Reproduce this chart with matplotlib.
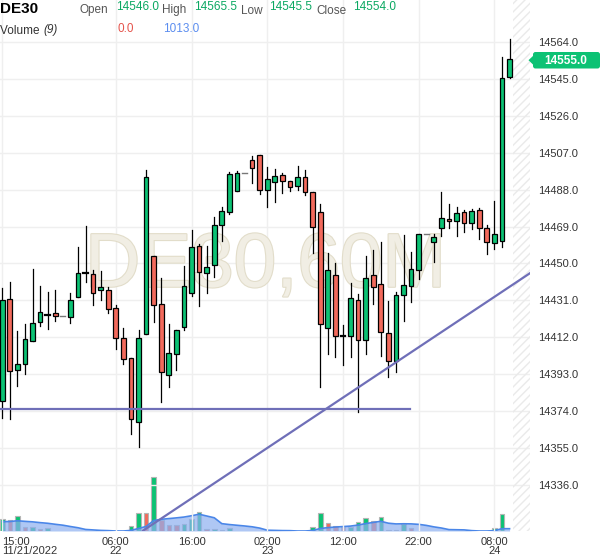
import numpy as np
import pandas as pd
import matplotlib
matplotlib.use("Agg")
import matplotlib.pyplot as plt
from matplotlib.patches import Rectangle, FancyBboxPatch, Polygon
import matplotlib.transforms as mtransforms
import matplotlib.patheffects as pe

plt.rcParams['font.family'] = ['Liberation Sans', 'DejaVu Sans']

# hourly DE30 candles, 11/21/2022 15:00 .. 11/24/2022 08:00
opens = [14379, 14431.5, 14395, 14398, 14410, 14420, 14423.5, 14424.5, 14423, 14422.5,
         14432.5, 14445, 14444.5, 14436.5, 14436.5, 14427, 14411.5, 14401.5, 14368.5, 14413.5,
         14454, 14429, 14392.5, 14403.5, 14417.5, 14435, 14459, 14445, 14449, 14470,
         14476.5, 14487.5, 14496.5, 14503.5, 14506, 14488, 14492, 14495.5, 14492.5, 14490,
         14494.5, 14487, 14476.5, 14417, 14444, 14412.5, 14412.5, 14431, 14410.5, 14444,
         14439.5, 14414, 14400, 14434, 14438.5, 14446.5, 14465, 14461, 14468, 14473,
         14472, 14476.5, 14471, 14477.5, 14468, 14460.5, 14461.5, 14546]
highs = [14437.5, 14440.5, 14415, 14419, 14447, 14438.5, 14435.5, 14436.5, 14423, 14435,
         14458.5, 14469.5, 14446.5, 14446, 14438, 14428.5, 14417, 14401.5, 14416, 14498,
         14454, 14442.5, 14419, 14415.5, 14448.5, 14467, 14460, 14459, 14474, 14479,
         14497, 14497.5, 14496.5, 14505.5, 14506, 14499.5, 14498.5, 14496.5, 14492.5, 14500,
         14498, 14487, 14480.5, 14455.5, 14450, 14418.5, 14440, 14434.5, 14454, 14457,
         14461, 14430.5, 14435.5, 14464.5, 14456, 14465, 14465, 14465, 14487, 14480.5,
         14479, 14477.5, 14478, 14478.5, 14470, 14482, 14556.5, 14565.5]
lows = [14370.5, 14370, 14387, 14393, 14410, 14418, 14416.5, 14420.5, 14423, 14419.5,
        14432.5, 14440.5, 14428.5, 14431, 14424.5, 14406, 14398, 14362, 14355.5, 14413.5,
        14420, 14378.5, 14386.5, 14395, 14416, 14433.5, 14428, 14435, 14443, 14461.5,
        14475.5, 14487.5, 14496.5, 14491.5, 14486, 14479, 14481.5, 14486.5, 14487.5, 14488,
        14485, 14455.5, 14386.5, 14403.5, 14402, 14397.5, 14402, 14373.5, 14403.5, 14429,
        14402.5, 14391.5, 14394, 14420.5, 14430, 14442, 14465, 14450.5, 14464, 14468,
        14464, 14466, 14467.5, 14462.5, 14455, 14457.5, 14458.5, 14545.5]
closes = [14431, 14394.5, 14398, 14411, 14419.5, 14425, 14423.5, 14423, 14423, 14431,
          14445, 14445, 14435, 14438, 14426.5, 14411.5, 14401, 14370, 14411.5, 14494.5,
          14428.5, 14394, 14404, 14415.5, 14438.5, 14458.5, 14445.5, 14448, 14470, 14477,
          14496, 14496.5, 14496.5, 14499, 14488, 14493.5, 14495, 14492.5, 14489.5, 14494.5,
          14487, 14469, 14419, 14446.5, 14412.5, 14412.5, 14432, 14410.5, 14442.5, 14438,
          14414.5, 14400, 14434, 14439, 14447, 14465, 14465, 14463.5, 14473.5, 14472,
          14476, 14471, 14477, 14468.5, 14461, 14465, 14545.5, 14555]
volumes = [5280, 4840, 6730, 1890, 1900, 880, 1450, 0, 0, 0,
           0, 0, 0, 0, 0, 0, 0, 2330, 7790, 7750,
           23630, 4840, 2820, 2800, 3260, 5150, 8360, 750, 760, 300,
           1320, 0, 0, 0, 0, 0, 0, 0, 0, 0,
           0, 1890, 8050, 3390, 2330, 1890, 1900, 4090, 5850, 4530,
           6290, 570, 560, 2950, 1450, 0, 0, 0, 0, 0,
           0, 0, 0, 0, 0, 1450, 7667, 0]
# bars before the first visible one, needed for the 9 period average
prior_volumes = [4200, 3800, 4100, 3900, 4000, 4050, 3960, 3590]

tick_idx = [0, 15, 25, 35, 45, 55, 65]
tick_labels = ["15:00\n11/21/2022", "06:00\n22", "16:00", "02:00\n23", "12:00", "22:00", "08:00\n24"]
price_ticks = [14336 + 19 * k for k in range(13)]

support_level = 14375
trend_pts = ([18.6, 69.7], [14312.5, 14445.0])
last_price = 14555.0

GREEN = '#0cc274'
RED = '#f26a5c'
W, H = 600, 558

fig = plt.figure(figsize=(W / 100, H / 100), dpi=100)
ax = fig.add_axes([0, (H - 531) / H, 530 / W, 531 / H])
vax = ax.twinx()
vax.set_zorder(ax.get_zorder() - 1)
ax.patch.set_visible(False)
vax.patch.set_facecolor('white')

n = len(opens)
x = np.arange(n)
ax.set_xlim(-0.3, 69.7)
ax.set_ylim(14312.3, 14585.6)

# axes, ticks, grid
ax.set_yticks(price_ticks)
ax.set_yticklabels(["%.1f" % p for p in price_ticks])
ax.set_xticks(tick_idx)
ax.set_xticklabels(tick_labels, linespacing=0.95)
ax.grid(True, color='#efefef', lw=1, zorder=0)
ax.set_axisbelow(True)
ax.yaxis.tick_right()
ax.tick_params(axis='both', length=0, labelsize=8, colors='#333333')
ax.tick_params(axis='y', pad=6)
ax.tick_params(axis='x', pad=4)
ax.get_xticklabels()[0].set_ha('left')
for s in ax.spines.values():
    s.set_visible(False)
for s in vax.spines.values():
    s.set_visible(False)
vax.set_yticks([])

# volume + 9 bar average
vols = np.array(volumes, dtype=float)
ma = pd.Series(prior_volumes + volumes, dtype=float).rolling(9).mean().to_numpy()[len(prior_volumes):]
prev = np.concatenate([[prior_volumes[-1]], vols[:-1]])
vcol = [GREEN if v > pv else RED for v, pv in zip(vols, prev)]
for i in range(n):
    if vols[i] > 0:
        vax.bar(i, vols[i], width=0.6, color=vcol[i], edgecolor='#b5b5b5', lw=0.8, zorder=2)
vax.fill_between(x, 0, ma, color='#8db0f0', alpha=0.7, lw=0, zorder=3)
vax.plot(x, ma, color='#4a86e8', lw=1.2, zorder=4)
vax.set_ylim(0, 531 * 440)

# future zone
ax.axvspan(67.5, 70, facecolor='none', edgecolor='#eaeaea', hatch='////', lw=0, zorder=1)

# watermark
ax.text(0.501, 0.46, 'DE30,60M', transform=ax.transAxes, fontsize=55, color='#f1eee4',
        ha='center', va='baseline', zorder=1,
        path_effects=[pe.withStroke(linewidth=1.6, foreground='#e2ddca')])

# candles
bw = 0.62
for i in range(n):
    o, h, l, c = opens[i], highs[i], lows[i], closes[i]
    if h == l:
        ax.plot([i - bw / 2, i + bw / 2], [o, o], color='#777777', lw=1.0, zorder=5)
        continue
    ax.plot([i, i], [l, h], color='black', lw=0.9, zorder=4)
    if c == o:
        ax.plot([i - bw / 2, i + bw / 2], [o, o], color='black', lw=1.6, zorder=5)
    else:
        col = GREEN if c > o else RED
        ax.add_patch(Rectangle((i - bw / 2, min(o, c)), bw, abs(c - o), facecolor=col,
                               edgecolor='black', lw=0.9, zorder=5))

# drawn lines
ax.plot([-1, 53.9], [support_level, support_level], color='#6f6fb8', lw=1.6, zorder=6)
slope = (trend_pts[1][1] - trend_pts[1][0]) / (trend_pts[0][1] - trend_pts[0][0])
ax.plot([trend_pts[0][0], 72], [trend_pts[1][0], trend_pts[1][0] + slope * (72 - trend_pts[0][0])],
        color='#6f6fb8', lw=1.6, zorder=6)

# pixel transform for overlay elements (origin top-left)
px = mtransforms.Affine2D().scale(1 / W, -1 / H).translate(0, 1) + fig.transFigure

box = FancyBboxPatch((533, 52), 67, 16.5, boxstyle="round,pad=0,rounding_size=2.5",
                     facecolor=GREEN, edgecolor='none', transform=px, zorder=10)
fig.patches.append(box)
fig.patches.append(Polygon([(528.5, 60.2), (534, 55), (534, 65.5)], closed=True,
                           facecolor=GREEN, edgecolor='none', transform=px, zorder=10))
fig.text(566, 64.5, "%.1f" % last_price, transform=px, color='white', fontsize=8.5,
         fontweight='bold', ha='center', va='baseline', zorder=11)

# header
fig.text(0, 13, 'DE30', transform=px, fontsize=11, fontweight='bold', color='black', va='baseline')
hdr = [('Open', 79, 116, opens[-1]), ('High', 162, 194, highs[-1]),
       ('Low', 241, 269, lows[-1]), ('Close', 316, 353, 14554.0)]
for lab, lx, vx, val in hdr:
    fig.text(lx, 13.5, lab, transform=px, fontsize=8.5, color='#555555', va='baseline')
    fig.text(vx, 10.2, "%.1f" % val, transform=px, fontsize=8.5, color='#0aa862', va='baseline')
fig.text(0, 33.5, 'Volume ', transform=px, fontsize=8.5, color='#333333', va='baseline')
fig.text(43.5, 33.5, '(9)', transform=px, fontsize=8.5, color='#333333', va='baseline', style='italic')
fig.text(117, 32, "%.1f" % vols[-1], transform=px, fontsize=8.5, color='#e5534b', va='baseline')
fig.text(163, 32, "%.1f" % ma[-1], transform=px, fontsize=8.5, color='#5b8def', va='baseline')

fig.savefig('out.png', dpi=100, facecolor='white')
